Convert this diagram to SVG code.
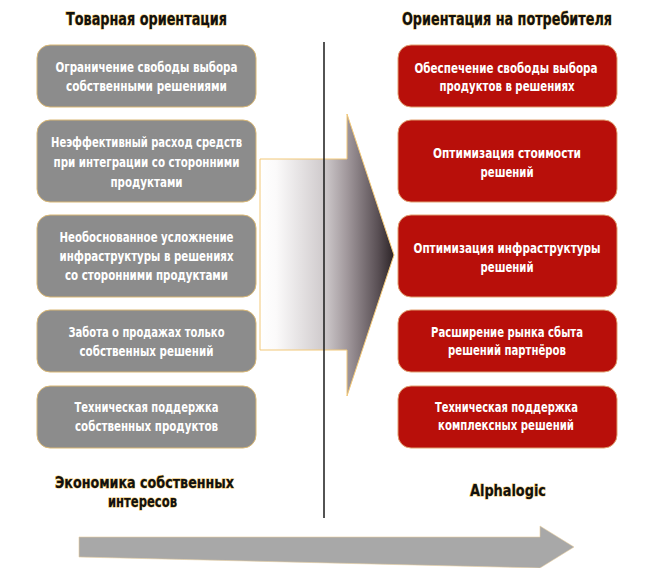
<svg xmlns="http://www.w3.org/2000/svg" width="650" height="568" viewBox="0 0 650 568">
  <defs>
    <linearGradient id="bigArrowFill" x1="260" y1="0" x2="394" y2="0" gradientUnits="userSpaceOnUse">
      <stop offset="0" stop-color="#ffffff"/>
      <stop offset="0.12" stop-color="#fbfafa"/>
      <stop offset="0.48" stop-color="#cfcacc"/>
      <stop offset="0.65" stop-color="#a1989c"/>
      <stop offset="0.88" stop-color="#5a5055"/>
      <stop offset="1" stop-color="#2c2427"/>
    </linearGradient>
    <style>
      .title { font-family: "DejaVu Sans Condensed", "Liberation Sans Narrow", "Liberation Sans", sans-serif; font-weight: bold; font-size: 18px; fill: #111; stroke: #e6b54c; stroke-width: 0.9px; paint-order: stroke; text-anchor: middle; }
      .foot { font-family: "DejaVu Sans Condensed", "Liberation Sans Narrow", "Liberation Sans", sans-serif; font-weight: bold; font-size: 15px; fill: #111; stroke: #e6b54c; stroke-width: 0.9px; paint-order: stroke; text-anchor: middle; }
      .gray rect { fill: #8c8c8c; stroke: #d9b774; stroke-width: 1; }
      .red rect { fill: #b80f0a; stroke: #e0a070; stroke-width: 1; }
      .lbl { font-family: "DejaVu Sans Condensed", "Liberation Sans Narrow", "Liberation Sans", sans-serif; font-weight: bold; font-size: 14.5px; fill: #ffffff; text-anchor: middle; }
    </style>
  </defs>

  <rect width="650" height="568" fill="#ffffff"/>

  <!-- column headings -->
  <text class="title" x="146.5" y="25" textLength="161" lengthAdjust="spacingAndGlyphs">Товарная ориентация</text>
  <text class="title" x="507" y="25" textLength="210" lengthAdjust="spacingAndGlyphs">Ориентация на потребителя</text>

  <!-- transition arrow behind the divider -->
  <polygon points="260,159 347,159 347,114 394,255 347,396 347,350 260,350" fill="url(#bigArrowFill)" stroke="#f2c878" stroke-width="1"/>

  <!-- divider -->
  <line x1="324" y1="42" x2="324" y2="518" stroke="#1a1a1a" stroke-width="1.5"/>

  <!-- product-oriented column -->
  <g id="left-1" class="gray">
    <rect x="37" y="45" width="219" height="62" rx="13"/>
    <text class="lbl" x="146.5" y="72" textLength="182" lengthAdjust="spacingAndGlyphs">Ограничение свободы выбора</text>
    <text class="lbl" x="146.5" y="91" textLength="161" lengthAdjust="spacingAndGlyphs">собственными решениями</text>
  </g>
  <g id="left-2" class="gray">
    <rect x="37" y="120" width="219" height="82" rx="13"/>
    <text class="lbl" x="146.5" y="147" textLength="191" lengthAdjust="spacingAndGlyphs">Неэффективный расход средств</text>
    <text class="lbl" x="146.5" y="167" textLength="186" lengthAdjust="spacingAndGlyphs">при интеграции со сторонними</text>
    <text class="lbl" x="146.5" y="187" textLength="72" lengthAdjust="spacingAndGlyphs">продуктами</text>
  </g>
  <g id="left-3" class="gray">
    <rect x="37" y="215" width="219" height="82" rx="13"/>
    <text class="lbl" x="146.5" y="242" textLength="174" lengthAdjust="spacingAndGlyphs">Необоснованное усложнение</text>
    <text class="lbl" x="146.5" y="261" textLength="174" lengthAdjust="spacingAndGlyphs">инфраструктуры в решениях</text>
    <text class="lbl" x="146.5" y="280" textLength="163" lengthAdjust="spacingAndGlyphs">со сторонними продуктами</text>
  </g>
  <g id="left-4" class="gray">
    <rect x="37" y="310" width="219" height="62" rx="13"/>
    <text class="lbl" x="146.5" y="337" textLength="156" lengthAdjust="spacingAndGlyphs">Забота о продажах только</text>
    <text class="lbl" x="146.5" y="356" textLength="134" lengthAdjust="spacingAndGlyphs">собственных решений</text>
  </g>
  <g id="left-5" class="gray">
    <rect x="37" y="386" width="219" height="62" rx="13"/>
    <text class="lbl" x="146.5" y="412" textLength="144" lengthAdjust="spacingAndGlyphs">Техническая поддержка</text>
    <text class="lbl" x="146.5" y="431" textLength="143" lengthAdjust="spacingAndGlyphs">собственных продуктов</text>
  </g>

  <!-- customer-oriented column -->
  <g id="right-1" class="red">
    <rect x="398" y="45" width="219" height="62" rx="13"/>
    <text class="lbl" x="506" y="73" textLength="183" lengthAdjust="spacingAndGlyphs">Обеспечение свободы выбора</text>
    <text class="lbl" x="507" y="91" textLength="135" lengthAdjust="spacingAndGlyphs">продуктов в решениях</text>
  </g>
  <g id="right-2" class="red">
    <rect x="398" y="120" width="219" height="82" rx="13"/>
    <text class="lbl" x="507" y="158" textLength="148" lengthAdjust="spacingAndGlyphs">Оптимизация стоимости</text>
    <text class="lbl" x="507" y="177" textLength="53" lengthAdjust="spacingAndGlyphs">решений</text>
  </g>
  <g id="right-3" class="red">
    <rect x="398" y="215" width="219" height="82" rx="13"/>
    <text class="lbl" x="507" y="253" textLength="187" lengthAdjust="spacingAndGlyphs">Оптимизация инфраструктуры</text>
    <text class="lbl" x="507" y="272" textLength="53" lengthAdjust="spacingAndGlyphs">решений</text>
  </g>
  <g id="right-4" class="red">
    <rect x="398" y="310" width="219" height="62" rx="13"/>
    <text class="lbl" x="507" y="337" textLength="152" lengthAdjust="spacingAndGlyphs">Расширение рынка сбыта</text>
    <text class="lbl" x="507" y="355" textLength="118" lengthAdjust="spacingAndGlyphs">решений партнёров</text>
  </g>
  <g id="right-5" class="red">
    <rect x="398" y="386" width="219" height="62" rx="13"/>
    <text class="lbl" x="506.5" y="412" textLength="143" lengthAdjust="spacingAndGlyphs">Техническая поддержка</text>
    <text class="lbl" x="506" y="430" textLength="136" lengthAdjust="spacingAndGlyphs">комплексных решений</text>
  </g>

  <!-- footers -->
  <text class="foot" x="144.5" y="488" textLength="179" lengthAdjust="spacingAndGlyphs">Экономика собственных</text>
  <text class="foot" x="142.5" y="507" textLength="69" lengthAdjust="spacingAndGlyphs">интересов</text>
  <text class="foot" x="508" y="496" textLength="76" lengthAdjust="spacingAndGlyphs">Alphalogic</text>

  <!-- timeline arrow -->
  <g id="connectors">
    <polygon points="79,537 540,537 540,526 574,547 540,568 79,557" fill="#a8a8a8" stroke="#e8cfa0" stroke-width="0.6"/>
  </g>
</svg>
